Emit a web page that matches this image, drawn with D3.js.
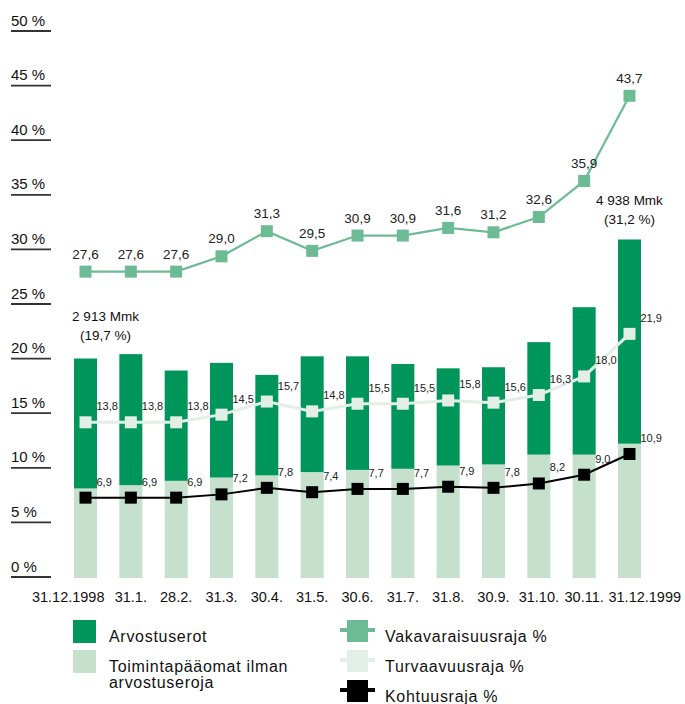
<!DOCTYPE html>
<html>
<head>
<meta charset="utf-8">
<script src="https://cdn.jsdelivr.net/npm/d3@7/dist/d3.min.js"></script>
<style>
  body { margin: 0; background: #fff; }
  svg { display: block; font-family: "Liberation Sans", Arial, sans-serif; }
</style>
</head>
<body>
<svg></svg>
<script>
// data
const dates = ["31.12.1998", "31.1.", "28.2.", "31.3.", "30.4.", "31.5.", "30.6.",
               "31.7.", "31.8.", "30.9.", "31.10.", "30.11.", "31.12.1999"]
const toimintapaaomat = [8.2, 8.5, 8.9, 9.2, 9.4, 9.7, 9.9, 10.0, 10.3, 10.4, 11.3, 11.3, 12.3]
const arvostuserot = [11.9, 12.0, 10.1, 10.5, 9.2, 10.6, 10.4, 9.6, 8.9, 8.9, 10.3, 13.5, 18.7]
const vakavaraisuus = [27.6, 27.6, 27.6, 29.0, 31.3, 29.5, 30.9, 30.9, 31.6, 31.2, 32.6, 35.9, 43.7]
const turvaavuus = [13.8, 13.8, 13.8, 14.5, 15.7, 14.8, 15.5, 15.5, 15.8, 15.6, 16.3, 18.0, 21.9]
const kohtuus = [6.9, 6.9, 6.9, 7.2, 7.8, 7.4, 7.7, 7.7, 7.9, 7.8, 8.2, 9.0, 10.9]
const yTicks = [0, 5, 10, 15, 20, 25, 30, 35, 40, 45, 50]
const notes = [
    { i: 0, lines: ["2 913 Mmk", "(19,7 %)"], dx: 20, dy: -37 },
    { i: 12, lines: ["4 938 Mmk", "(31,2 %)"], dx: 0, dy: -33 }
]

const
    width = 685,
    height = 704,
    DARK = "#00955a",
    LIGHT = "#c5e0cd",
    VAKA = "#6dbb94",
    TURVA = "#e2efe6",
    MARK = 12,
    LINE_SHIFT = -4

const svg = d3.select("svg")
    .attr("width", width)
    .attr("height", height)

const x = d3.scaleBand()
    .domain(dates)
    .range([74, 641])
    .paddingInner(0.4926)
    .paddingOuter(0)

const y = d3.scaleLinear()
    .domain([0, 50])
    .range([577, 31])

const cx = d => x(d) + x.bandwidth() / 2

// y axis: labels with underline
const yAxis = svg.append("g")
yTicks.forEach(t => {
    yAxis.append("line")
        .attr("x1", 11).attr("x2", 51)
        .attr("y1", y(t)).attr("y2", y(t))
        .attr("stroke", "#333")
        .attr("stroke-width", 1.8)
    yAxis.append("text")
        .attr("x", 11)
        .attr("y", y(t) - 5.5)
        .attr("font-size", 15)
        .attr("fill", "#111")
        .text(t + " %")
})

// stacked bars
const stack = d3.stack().keys(["low", "high"])
const rows = dates.map((d, i) => ({ date: d, low: toimintapaaomat[i], high: arvostuserot[i] }))
const layers = stack(rows)
const colors = [LIGHT, DARK]

svg.append("g").selectAll("g")
    .data(layers)
    .join("g")
    .attr("fill", (d, i) => colors[i])
    .selectAll("rect")
    .data(d => d)
    .join("rect")
    .attr("x", d => x(d.data.date))
    .attr("y", d => y(d[1]) + 1)
    .attr("width", x.bandwidth())
    .attr("height", d => y(d[0]) - y(d[1]))

// lines with square markers
const lineGen = d3.line()
    .x((d, i) => cx(dates[i]))
    .y(d => y(d) + LINE_SHIFT)

function drawSeries(values, color, strokeW, labelSize, labelPos) {
    const g = svg.append("g")
    g.append("path")
        .datum(values)
        .attr("d", lineGen)
        .attr("fill", "none")
        .attr("stroke", color)
        .attr("stroke-width", strokeW)
    g.selectAll("rect")
        .data(values)
        .join("rect")
        .attr("x", (d, i) => cx(dates[i]) - MARK / 2)
        .attr("y", d => y(d) + LINE_SHIFT - MARK / 2)
        .attr("width", MARK)
        .attr("height", MARK)
        .attr("fill", color)
    g.selectAll("text")
        .data(values)
        .join("text")
        .attr("x", (d, i) => cx(dates[i]) + (labelPos == "top" ? 0 : 11))
        .attr("y", d => y(d) + LINE_SHIFT - (labelPos == "top" ? 13 : 12))
        .attr("text-anchor", labelPos == "top" ? "middle" : "start")
        .attr("font-size", labelSize)
        .attr("fill", "#222")
        .text(d => d3.format(".1f")(d).replace(".", ","))
}

drawSeries(turvaavuus, TURVA, 3, 11, "right")
drawSeries(kohtuus, "#000", 2, 11, "right")
drawSeries(vakavaraisuus, VAKA, 2.2, 13.5, "top")

// Mmk annotations
notes.forEach(n => {
    const top = y(toimintapaaomat[n.i] + arvostuserot[n.i])
    n.lines.forEach((s, k) => {
        svg.append("text")
            .attr("x", cx(dates[n.i]) + n.dx)
            .attr("y", top + n.dy + k * 19)
            .attr("text-anchor", "middle")
            .attr("font-size", 13.5)
            .attr("fill", "#111")
            .text(s)
    })
})

// x labels
svg.append("g").selectAll("text")
    .data(dates)
    .join("text")
    .attr("x", (d, i) => i == 0 ? cx(d) + 19 : i == dates.length - 1 ? cx(d) - 21 : cx(d))
    .attr("y", 602)
    .attr("text-anchor", (d, i) => i == 0 ? "end" : i == dates.length - 1 ? "start" : "middle")
    .attr("font-size", 14.5)
    .attr("fill", "#111")
    .text(d => d)

// legend
const legend = svg.append("g")
    .attr("font-size", 16)
    .attr("letter-spacing", 0.7)
    .attr("fill", "#111")

legend.append("rect").attr("x", 73).attr("y", 620).attr("width", 23).attr("height", 23).attr("fill", DARK)
legend.append("text").attr("x", 109).attr("y", 642).text("Arvostuserot")
legend.append("rect").attr("x", 73).attr("y", 650).attr("width", 23).attr("height", 23).attr("fill", LIGHT)
legend.append("text").attr("x", 109).attr("y", 672).text("Toimintapääomat ilman")
legend.append("text").attr("x", 109).attr("y", 688).text("arvostuseroja")

const lineKeys = [
    { name: "Vakavaraisuusraja %", color: VAKA, y: 620 },
    { name: "Turvaavuusraja %", color: TURVA, y: 650 },
    { name: "Kohtuusraja %", color: "#000", y: 680 }
]
lineKeys.forEach(k => {
    legend.append("rect").attr("x", 347).attr("y", k.y).attr("width", 21).attr("height", 22).attr("fill", k.color)
    legend.append("rect").attr("x", 340).attr("y", k.y + 8).attr("width", 35).attr("height", 4).attr("fill", k.color)
    legend.append("text").attr("x", 385).attr("y", k.y + 22).text(k.name)
})
</script>
</body>
</html>
